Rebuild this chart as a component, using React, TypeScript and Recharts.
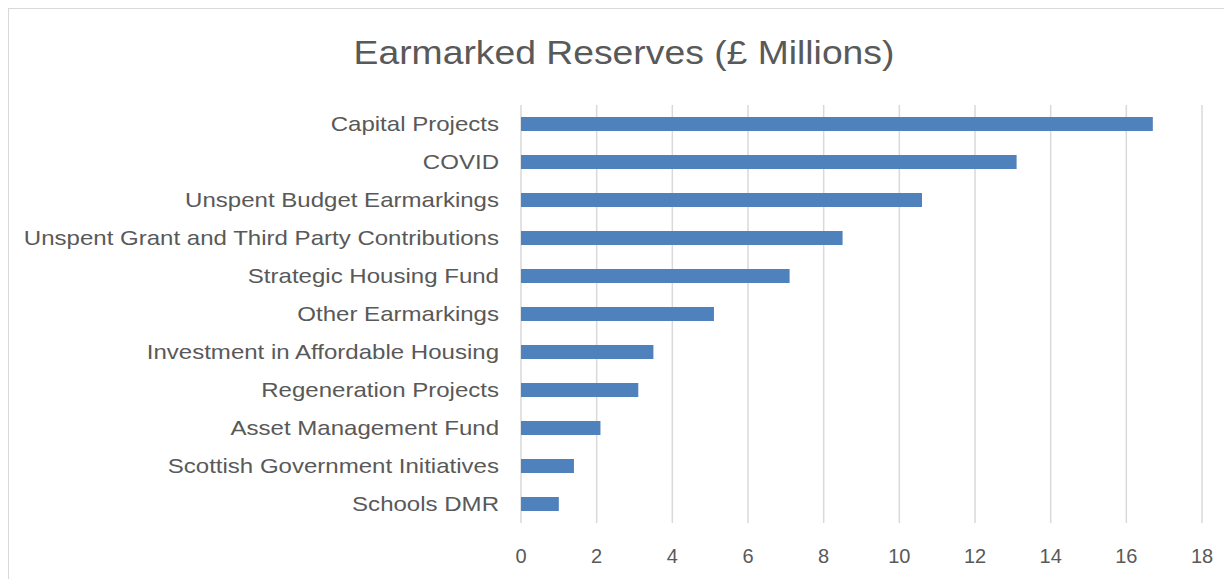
import { BarChart, Bar, XAxis, YAxis, CartesianGrid } from 'recharts'

// 类别（从上到下）与数值，单位：百万英镑
const categories = [
  'Capital Projects',
  'COVID',
  'Unspent Budget Earmarkings',
  'Unspent Grant and Third Party Contributions',
  'Strategic Housing Fund',
  'Other Earmarkings',
  'Investment in Affordable Housing',
  'Regeneration Projects',
  'Asset Management Fund',
  'Scottish Government Initiatives',
  'Schools DMR',
]
const reserves = [16.7, 13.1, 10.6, 8.5, 7.1, 5.1, 3.5, 3.1, 2.1, 1.4, 1.0]
const xTicks = [0, 2, 4, 6, 8, 10, 12, 14, 16, 18]

const TEXT = '#595959'
const GRID = '#d9d9d9'
const BAR = '#4f81bd'
const FONT = '"Liberation Sans", Arial, sans-serif'

const data = categories.map((name, i) => ({ name, value: reserves[i] }))

// 参考图文字横向略有拉伸
function CatTick(props: any) {
  const { x, y, payload } = props
  return (
    <g transform={`translate(${x},${y}) scale(1.145,1)`}>
      <text textAnchor="end" dy="0.355em" fill={TEXT} fontSize={21} fontFamily={FONT}>
        {payload.value}
      </text>
    </g>
  )
}

export default function App() {
  return (
    <div
      style={{
        position: 'relative',
        width: 1224,
        height: 571,
        borderTop: `1px solid ${GRID}`,
        borderLeft: `1px solid ${GRID}`,
        overflow: 'hidden',
        background: '#fff',
      }}
    >
      <div
        style={{
          position: 'absolute',
          left: 615,
          top: 27,
          fontFamily: FONT,
          fontSize: 33,
          lineHeight: '33px',
          color: TEXT,
          whiteSpace: 'nowrap',
          transform: 'translateX(-50%) scaleX(1.13)',
        }}
      >
        Earmarked Reserves (£ Millions)
      </div>
      <BarChart
        width={1224}
        height={570}
        data={data}
        layout="vertical"
        margin={{ top: 96, right: 31, bottom: 0, left: 0 }}
      >
        <CartesianGrid horizontal={false} stroke={GRID} strokeWidth={1.5} />
        <XAxis
          type="number"
          domain={[0, 18]}
          ticks={xTicks}
          axisLine={false}
          tickLine={false}
          tickSize={0}
          tickMargin={26}
          height={56}
          tick={{ fill: TEXT, fontSize: 20, fontFamily: FONT }}
        />
        <YAxis
          type="category"
          dataKey="name"
          width={512}
          axisLine={false}
          tickLine={false}
          tickSize={0}
          tickMargin={22}
          interval={0}
          tick={<CatTick />}
        />
        <Bar dataKey="value" fill={BAR} barSize={14} isAnimationActive={false} />
      </BarChart>
    </div>
  )
}
